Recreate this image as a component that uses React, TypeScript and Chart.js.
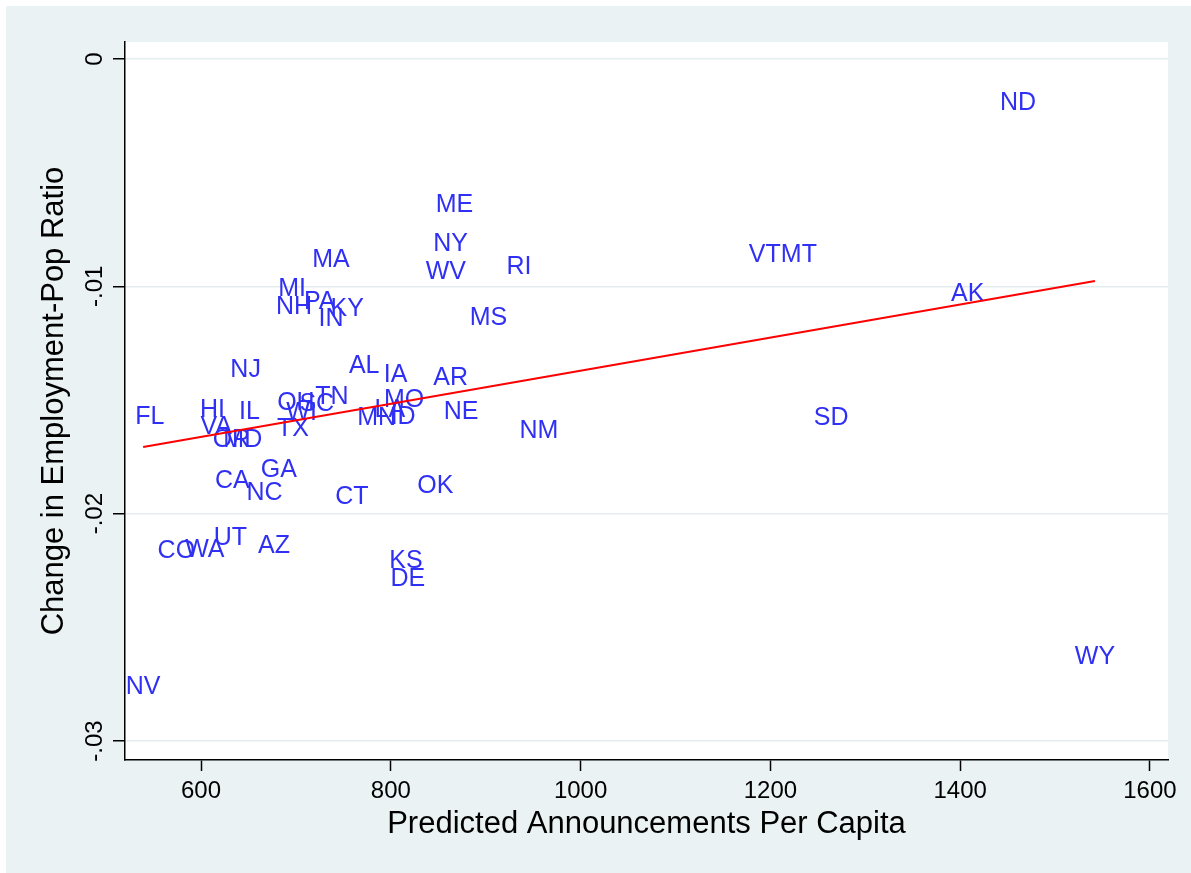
import React, { useEffect, useRef } from "react";
import { Chart, registerables } from "chart.js";

Chart.register(...registerables);

// ---- Data ----
const states = [
  "ND", "ME", "NY", "WV", "RI", "MA", "VT", "MT", "AK", "MI",
  "NH", "PA", "IN", "KY", "MS", "AL", "IA", "AR", "NJ", "TN",
  "OH", "SC", "WI", "MO", "LA", "MN", "ID", "NE", "NM", "SD",
  "FL", "HI", "IL", "VA", "OR", "MD", "TX", "CA", "GA", "NC",
  "CT", "OK", "UT", "AZ", "CO", "WA", "KS", "DE", "WY", "NV",
];
const announcements = [
  1461, 867, 863, 858, 935, 737, 1194, 1230, 1408, 696,
  698, 725, 737, 754, 903, 772, 805, 863, 647, 738,
  700, 722, 706, 814, 799, 785, 813, 874, 956, 1264,
  546, 612, 651, 616, 632, 644, 697, 633, 682, 667,
  759, 847, 631, 677, 574, 604, 816, 818, 1542, 539,
];
const empPopChange = [
  -0.00194, -0.00642, -0.00814, -0.00937, -0.00915, -0.00884, -0.00862, -0.00862, -0.01034, -0.01012,
  -0.01091, -0.01069, -0.01144, -0.0110, -0.01139, -0.0135, -0.0139, -0.01403, -0.01368, -0.01487,
  -0.01513, -0.01518, -0.01557, -0.0150, -0.01544, -0.01579, -0.01575, -0.01553, -0.01636, -0.01579,
  -0.01575, -0.01544, -0.01553, -0.01619, -0.01676, -0.01676, -0.01628, -0.01856, -0.01808, -0.01909,
  -0.01927, -0.01878, -0.02107, -0.02142, -0.02164, -0.0216, -0.02208, -0.02287, -0.0263, -0.02763,
];
const fitX = [539, 1542];
const fitY = [-0.01707, -0.009766];
const xTicks = [600, 800, 1000, 1200, 1400, 1600];
const xTickLabels = ["600", "800", "1000", "1200", "1400", "1600"];
const yTicks = [0, -0.01, -0.02, -0.03];
const yTickLabels = ["0", "-.01", "-.02", "-.03"];
const xTitle = "Predicted Announcements Per Capita";
const yTitle = "Change in Employment-Pop Ratio";

const FONT = "'Liberation Sans', Arial, Helvetica, sans-serif";
const LABEL_COLOR = "#3030f4";

const plotBgPlugin = {
  id: "plotBg",
  beforeDraw(chart: any) {
    const { ctx, chartArea } = chart;
    ctx.save();
    ctx.fillStyle = "#ffffff";
    ctx.fillRect(chartArea.left, chartArea.top, chartArea.right - chartArea.left, chartArea.bottom - chartArea.top);
    ctx.restore();
  },
};

const stateLabelPlugin = {
  id: "stateLabels",
  afterDatasetDraw(chart: any, args: any) {
    if (args.index !== 1) return;
    const meta = chart.getDatasetMeta(1);
    const ctx = chart.ctx;
    ctx.save();
    ctx.font = `25px ${FONT}`;
    ctx.fillStyle = LABEL_COLOR;
    ctx.textAlign = "center";
    ctx.textBaseline = "middle";
    meta.data.forEach((el: any, i: number) => {
      ctx.fillText(states[i], el.x, el.y);
    });
    ctx.restore();
  },
};

export default function App() {
  const ref = useRef<HTMLCanvasElement | null>(null);

  useEffect(() => {
    if (!ref.current) return;
    const chart = new Chart(ref.current, {
      type: "scatter",
      data: {
        datasets: [
          {
            type: "line",
            label: "Fitted values",
            data: fitX.map((x, i) => ({ x, y: fitY[i] })),
            borderColor: "#ff0000",
            borderWidth: 2,
            pointRadius: 0,
            showLine: true,
            fill: false,
          },
          {
            type: "scatter",
            label: "States",
            data: announcements.map((x, i) => ({ x, y: empPopChange[i] })),
            pointRadius: 0,
            pointHoverRadius: 0,
            backgroundColor: LABEL_COLOR,
          },
        ],
      },
      options: {
        responsive: false,
        animation: false,
        events: [],
        layout: { padding: { left: 0, top: 36, right: 23, bottom: 0 } },
        plugins: {
          legend: { display: false },
          tooltip: { enabled: false },
        },
        scales: {
          x: {
            type: "linear",
            min: 519.9,
            max: 1619,
            afterBuildTicks: (s: any) => {
              s.ticks = xTicks.map((v) => ({ value: v }));
            },
            afterFit: (s: any) => {
              s.height = 113;
            },
            ticks: {
              autoSkip: false,
              maxRotation: 0,
              minRotation: 0,
              padding: 6,
              color: "#000",
              font: { family: FONT, size: 24 },
              callback: (v: any) => {
                const i = xTicks.indexOf(Number(v));
                return i >= 0 ? xTickLabels[i] : "";
              },
            },
            grid: {
              drawOnChartArea: false,
              drawTicks: true,
              tickLength: 11,
              tickColor: "#000",
              tickWidth: 1.5,
            },
            border: { display: true, color: "#000", width: 1.5 },
            title: {
              display: true,
              text: xTitle,
              color: "#000",
              font: { family: FONT, size: 31 },
              padding: { top: 0, bottom: 30 },
            },
          },
          y: {
            type: "linear",
            min: -0.030836,
            max: 0.000748,
            afterBuildTicks: (s: any) => {
              s.ticks = [...yTicks].sort((a, b) => a - b).map((v) => ({ value: v }));
            },
            afterFit: (s: any) => {
              s.width = 119;
            },
            ticks: {
              autoSkip: false,
              minRotation: 90,
              maxRotation: 90,
              crossAlign: "center",
              padding: -3,
              color: "#000",
              font: { family: FONT, size: 24 },
              callback: (v: any) => {
                const i = yTicks.findIndex((t) => Math.abs(t - Number(v)) < 1e-9);
                return i >= 0 ? yTickLabels[i] : "";
              },
            },
            grid: {
              color: "#e3ecee",
              lineWidth: 1.5,
              drawTicks: true,
              tickLength: 12,
              tickColor: "#000",
              tickWidth: 1.5,
            },
            border: { display: true, color: "#000", width: 1.5 },
            title: {
              display: true,
              text: yTitle,
              color: "#000",
              font: { family: FONT, size: 31 },
              padding: { top: 30, bottom: 0 },
            },
          },
        },
      },
      plugins: [plotBgPlugin, stateLabelPlugin],
    } as any);
    return () => chart.destroy();
  }, []);

  return (
    <div style={{ position: "fixed", left: 0, top: 0, width: 1191, height: 873, background: "#ffffff" }}>
      <div style={{ position: "absolute", left: 6, top: 6, width: 1185, height: 867, background: "#eaf2f3" }}>
        <canvas ref={ref} width={1185} height={867} style={{ width: 1185, height: 867, display: "block" }} />
      </div>
    </div>
  );
}
